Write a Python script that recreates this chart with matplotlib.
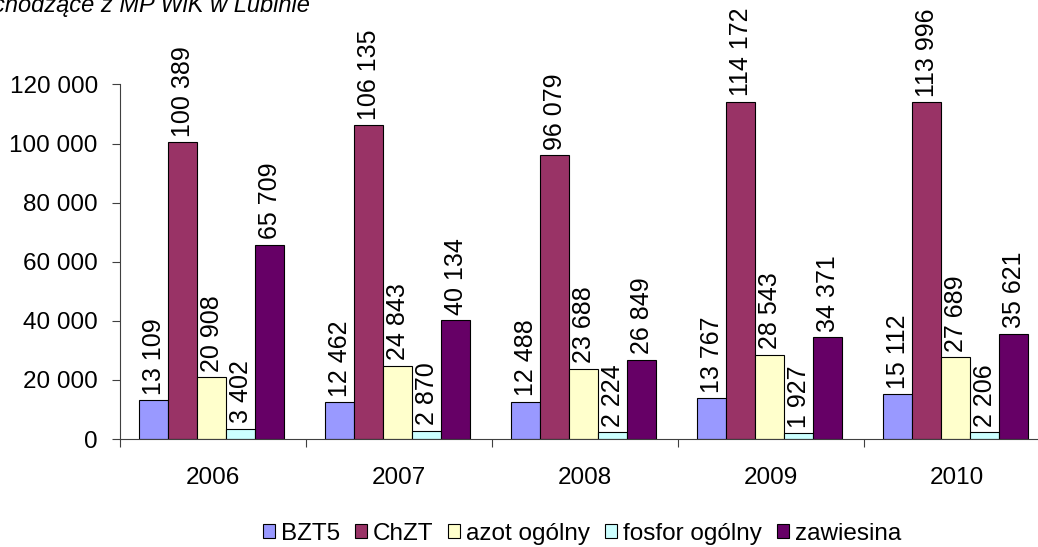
import numpy as np
import matplotlib
matplotlib.use("Agg")
import matplotlib.pyplot as plt

plt.rcParams['font.family'] = ['Liberation Sans', 'DejaVu Sans']

years = ['2006', '2007', '2008', '2009', '2010']
series = ['BZT5', 'ChZT', 'azot ogólny', 'fosfor ogólny', 'zawiesina']
bzt5 = [13109, 12462, 12488, 13767, 15112]
chzt = [100389, 106135, 96079, 114172, 113996]
azot = [20908, 24843, 23688, 28543, 27689]
fosfor = [3402, 2870, 2224, 1927, 2206]
zawiesina = [65709, 40134, 26849, 34371, 35621]
colors = ['#9999FF', '#993366', '#FFFFCC', '#CCFFFF', '#660066']

W, H = 1038, 547
fig = plt.figure(figsize=(W / 100, H / 100), dpi=100)
ax = fig.add_axes([120 / W, (H - 439) / H, 930 / W, (439 - 84.5) / H])

x = np.arange(len(years))
bw = 0.156
for i, (name, vals) in enumerate(zip(series, [bzt5, chzt, azot, fosfor, zawiesina])):
    pos = x + (i - 2) * bw - 0.008
    ax.bar(pos, vals, width=bw, color=colors[i], edgecolor='black', linewidth=0.8, label=name)
    for p, v in zip(pos, vals):
        ax.text(p + 0.005, v + 1900, f"{v:,}".replace(',', ' '), rotation=90,
                ha='center', va='bottom', fontsize=18)

ax.set_xlim(-0.5, 4.5)
ax.set_ylim(0, 120000)
ax.set_yticks(range(0, 120001, 20000))
ax.set_yticklabels([f"{v:,}".replace(',', ' ') for v in range(0, 120001, 20000)], fontsize=17.5)
ax.set_xticks(np.arange(-0.5, 5, 1))
ax.set_xticklabels([])
ax.set_xticks(x, minor=True)
ax.set_xticklabels(years, minor=True, fontsize=17.5)
ax.tick_params(axis='x', which='major', length=6, width=0.8, color='#404040')
ax.tick_params(axis='x', which='minor', length=0, pad=20)
ax.tick_params(axis='y', length=6, width=0.8, color='#404040', pad=10)
for s in ['top', 'right']:
    ax.spines[s].set_visible(False)
for s in ['left', 'bottom']:
    ax.spines[s].set_color('#404040')
    ax.spines[s].set_linewidth(0.8)

fig.legend(loc='center', bbox_to_anchor=(582 / W, 1 - 534 / H), ncol=5, frameon=False,
           fontsize=17.5, handlelength=0.5, handleheight=0.5, handletextpad=0.25,
           columnspacing=0.6, borderpad=0)

# tytuł przycięty u góry, jak w oryginale
fig.text(310 / W, 1 - 12 / H, 'Ścieki odchodzące z MP WiK w Lubinie', style='italic',
         fontsize=17, ha='right', va='baseline')

fig.savefig('out.png', dpi=100)
